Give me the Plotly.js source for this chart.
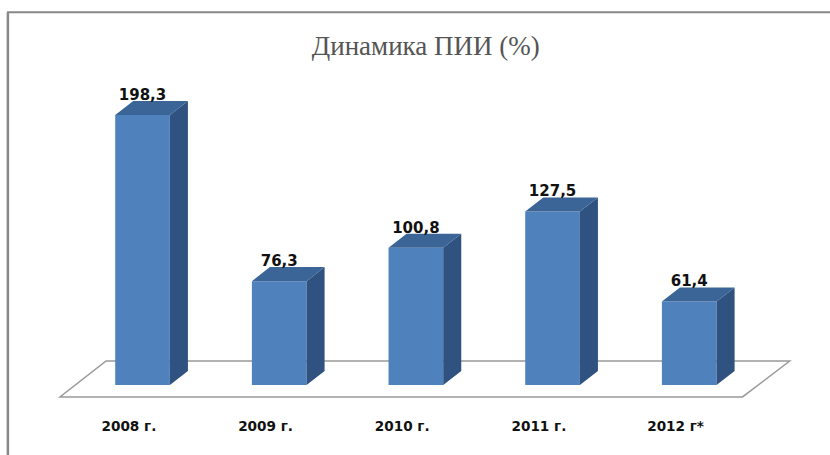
<!DOCTYPE html>
<html><head><meta charset="utf-8">
<script src="https://cdn.plot.ly/plotly-3.0.1.min.js"></script>
<style>html,body{margin:0;padding:0;background:#fff;overflow:hidden}</style>
</head><body><div id="chart" style="width:830px;height:455px"></div>
<script>
const categories = ["2008 г.", "2009 г.", "2010 г.", "2011 г.", "2012 г*"];
const labels = ["198,3", "76,3", "100,8", "127,5", "61,4"];
const values = [198.3, 76.3, 100.8, 127.5, 61.4];
const titleText = "Динамика ПИИ (%)";

// 3D look: bar width and extrusion depth in axis units
const barW = 0.40, depthX = 0.132, depthY = 10.3, labelLift = 14, tickShift = 0.1;
const idx = categories.map((_, i) => i);

const sideFace = {x: [], y: []}, topFace = {x: [], y: []};
values.forEach((v, i) => {
  const r = i + barW / 2, l = i - barW / 2;
  sideFace.x.push(r, r + depthX, r + depthX, r, r, null);
  sideFace.y.push(0, depthY, v + depthY, v, 0, null);
  topFace.x.push(l, r, r + depthX, l + depthX, l, null);
  topFace.y.push(v, v, v + depthY, v + depthY, v, null);
});

const traces = [
  {type: "bar", x: idx, y: values, width: barW, marker: {color: "#4f81bd", line: {width: 0}}, hoverinfo: "skip"},
  {type: "scatter", mode: "lines", x: sideFace.x, y: sideFace.y, fill: "toself", fillcolor: "#2f5280", line: {width: 0, color: "#2f5280"}, hoverinfo: "skip"},
  {type: "scatter", mode: "lines", x: topFace.x, y: topFace.y, fill: "toself", fillcolor: "#3a6596", line: {width: 0, color: "#3a6596"}, hoverinfo: "skip"},
  {type: "scatter", mode: "text", x: idx, y: values.map(v => v + labelLift), text: labels, textposition: "middle center",
   textfont: {family: "DejaVu Sans", size: 15, color: "#111", weight: "bold"}, hoverinfo: "skip"}
];

const layout = {
  width: 830, height: 455, showlegend: false,
  paper_bgcolor: "#fff", plot_bgcolor: "#fff",
  margin: {l: 0, r: 0, t: 0, b: 45, pad: 0},
  title: {text: titleText, x: 0.513, xanchor: "center", y: 0.899, yanchor: "middle",
          font: {family: "Liberation Serif", size: 27, color: "#555"}},
  xaxis: {range: [-1.043, 5.03], tickmode: "array", tickvals: idx.map(i => i - tickShift), ticktext: categories,
          showgrid: false, zeroline: false, showline: false, ticks: "", ticklabelstandoff: 6, fixedrange: true,
          tickfont: {family: "DejaVu Sans", size: 13.6, color: "#111", weight: "bold"}, automargin: false},
  yaxis: {range: [-18.4, 282.9], visible: false, fixedrange: true},
  shapes: [
    {type: "path", layer: "below", xref: "x", yref: "y",
     path: "M -0.604 -8.8 L 4.39 -8.8 L 4.735 17.6 L -0.267 17.6 Z",
     fillcolor: "#fff", line: {color: "#999", width: 1.5}},
    {type: "line", xref: "paper", yref: "paper", x0: 0.0085, x1: 1, y0: 0.97, y1: 0.97, line: {color: "#888", width: 2}},
    {type: "line", xref: "paper", yref: "paper", x0: 0.0095, x1: 0.0095, y0: 0.97, y1: -0.2, line: {color: "#888", width: 2.5}}
  ]
};
Plotly.newPlot("chart", traces, layout, {displayModeBar: false, staticPlot: true});
</script></body></html>
